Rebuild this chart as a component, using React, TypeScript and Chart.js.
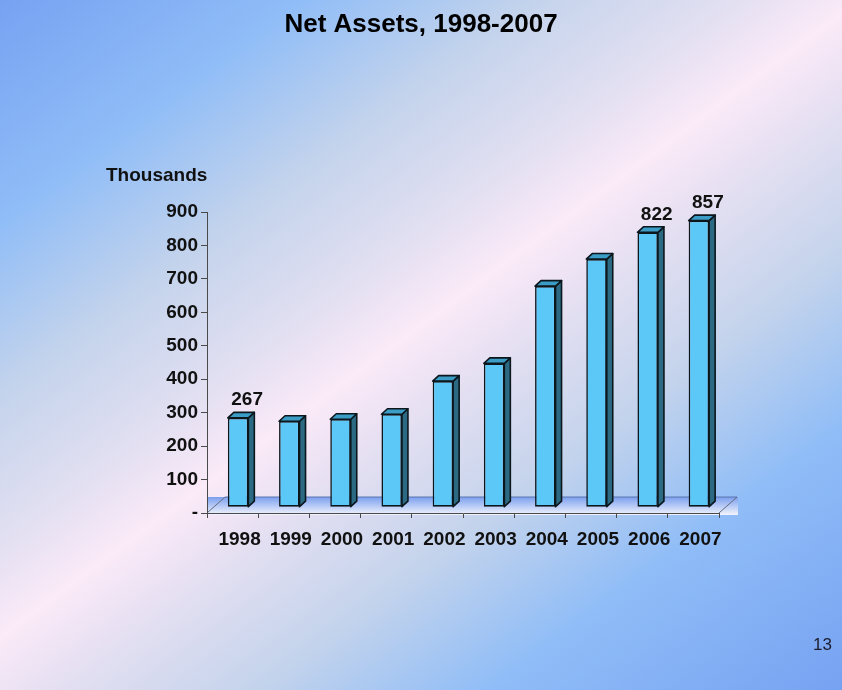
import React, { useEffect, useRef } from 'react';
import { Chart, registerables } from 'chart.js';

Chart.register(...registerables);

// ---- data ----
const CATEGORIES = ['1998', '1999', '2000', '2001', '2002', '2003', '2004', '2005', '2006', '2007'];
const NET_ASSETS = [267, 257, 263, 278, 377, 430, 661, 742, 822, 857];
const SHOW_VALUE = [true, false, false, false, false, false, false, false, true, true];
const Y_MIN = 0;
const Y_MAX = 900;
const Y_STEP = 100;
const TITLE = 'Net Assets, 1998-2007';
const UNIT_LABEL = 'Thousands';
const PAGE_NUMBER = '13';

// ---- style ----
const FONT = '"Liberation Sans", Arial, Helvetica, sans-serif';
const FLOOR_DX = 18;
const FLOOR_DY = -16;
const BAR_SHIFT_X = 5.5;
const BAR_SHIFT_Y = -5.8;
const BAR_DEPTH_X = 6;
const BAR_DEPTH_Y = -5.5;

const backgroundPlugin = {
  id: 'slideBackground',
  beforeDraw(chart: any) {
    const { ctx, width, height, chartArea } = chart;
    ctx.save();
    const g = ctx.createLinearGradient(0, 0, 628, 848);
    g.addColorStop(0, '#76a2f2');
    g.addColorStop(0.17, '#90bdf7');
    g.addColorStop(0.3, '#c3d3ec');
    g.addColorStop(0.42, '#e4e0f2');
    g.addColorStop(0.485, '#fbeaf8');
    g.addColorStop(0.55, '#e6e0f2');
    g.addColorStop(0.67, '#c3d3ec');
    g.addColorStop(0.8, '#90bdf7');
    g.addColorStop(1, '#76a2f2');
    ctx.fillStyle = g;
    ctx.fillRect(0, 0, width, height);

    // 3D floor
    const { left, right, bottom } = chartArea;
    const fg = ctx.createLinearGradient(0, bottom + FLOOR_DY, 0, bottom + 2);
    fg.addColorStop(0, '#7b9fee');
    fg.addColorStop(1, '#f3f5fd');
    ctx.fillStyle = fg;
    ctx.fillRect(left, bottom + FLOOR_DY, right - left + FLOOR_DX + 1, -FLOOR_DY + 2);
    ctx.lineWidth = 1;
    ctx.strokeStyle = '#5a76b0';
    ctx.beginPath();
    ctx.moveTo(left + FLOOR_DX, bottom + FLOOR_DY);
    ctx.lineTo(right + FLOOR_DX, bottom + FLOOR_DY);
    ctx.stroke();
    ctx.strokeStyle = '#666b7c';
    ctx.beginPath();
    ctx.moveTo(left, bottom);
    ctx.lineTo(left + FLOOR_DX, bottom + FLOOR_DY);
    ctx.moveTo(right, bottom);
    ctx.lineTo(right + FLOOR_DX, bottom + FLOOR_DY);
    ctx.stroke();
    ctx.restore();
  },
};

const bar3dPlugin = {
  id: 'bar3d',
  beforeDatasetsDraw(chart: any) {
    chart.ctx.save();
    chart.ctx.translate(BAR_SHIFT_X, BAR_SHIFT_Y);
  },
  afterDatasetsDraw(chart: any) {
    const { ctx } = chart;
    const meta = chart.getDatasetMeta(0);
    ctx.lineWidth = 1.6;
    ctx.lineJoin = 'round';
    ctx.strokeStyle = '#0b161d';
    meta.data.forEach((el: any) => {
      const { x, y, base, width } = el.getProps(['x', 'y', 'base', 'width'], true);
      const xl = x - width / 2;
      const xr = x + width / 2;
      // side face
      ctx.fillStyle = '#2b6a82';
      ctx.beginPath();
      ctx.moveTo(xr, y);
      ctx.lineTo(xr + BAR_DEPTH_X, y + BAR_DEPTH_Y);
      ctx.lineTo(xr + BAR_DEPTH_X, base + BAR_DEPTH_Y);
      ctx.lineTo(xr, base);
      ctx.closePath();
      ctx.fill();
      ctx.stroke();
      // top face
      ctx.fillStyle = '#3b9cc5';
      ctx.beginPath();
      ctx.moveTo(xl, y);
      ctx.lineTo(xl + BAR_DEPTH_X, y + BAR_DEPTH_Y);
      ctx.lineTo(xr + BAR_DEPTH_X, y + BAR_DEPTH_Y);
      ctx.lineTo(xr, y);
      ctx.closePath();
      ctx.fill();
      ctx.stroke();
    });
    // value labels
    ctx.fillStyle = '#111';
    ctx.font = `bold 19px ${FONT}`;
    ctx.textAlign = 'center';
    ctx.textBaseline = 'alphabetic';
    meta.data.forEach((el: any, i: number) => {
      if (!SHOW_VALUE[i]) return;
      const { x, y } = el.getProps(['x', 'y'], true);
      ctx.fillText(String(NET_ASSETS[i]), x + 9, y + BAR_DEPTH_Y - 7);
    });
    ctx.restore();
  },
};

const textPlugin = {
  id: 'slideText',
  afterDraw(chart: any) {
    const { ctx, width } = chart;
    ctx.save();
    ctx.fillStyle = '#000';
    ctx.font = `bold 26px ${FONT}`;
    ctx.textAlign = 'center';
    ctx.textBaseline = 'alphabetic';
    ctx.fillText(TITLE, width / 2, 32);
    ctx.fillStyle = '#111';
    ctx.font = `bold 19px ${FONT}`;
    ctx.textAlign = 'left';
    ctx.fillText(UNIT_LABEL, 106, 181);
    ctx.fillStyle = '#1c1c2c';
    ctx.font = `17px ${FONT}`;
    ctx.textAlign = 'right';
    ctx.fillText(PAGE_NUMBER, 832, 650);
    ctx.restore();
  },
};

export default function App() {
  const ref = useRef<HTMLCanvasElement | null>(null);

  useEffect(() => {
    if (!ref.current) return;
    const chart = new Chart(ref.current, {
      type: 'bar',
      data: {
        labels: CATEGORIES,
        datasets: [
          {
            data: NET_ASSETS,
            backgroundColor: '#5cc8f8',
            borderColor: '#0b161d',
            borderWidth: 1.6,
            borderSkipped: false,
            barPercentage: 0.4,
            categoryPercentage: 1.0,
            clip: false as any,
          },
        ],
      },
      options: {
        responsive: false,
        animation: false,
        layout: { padding: { left: 0, right: 123, top: 212, bottom: 117 } },
        plugins: {
          legend: { display: false },
          tooltip: { enabled: false },
          title: { display: false },
        },
        scales: {
          x: {
            afterFit: (s: any) => {
              s.height = 60;
            },
            grid: { display: true, drawOnChartArea: false, drawTicks: true, tickLength: 5, color: '#4a4a4a', offset: true },
            border: { display: true, color: '#4a4a4a', width: 1 },
            ticks: {
              color: '#111',
              font: { family: FONT, size: 19, weight: 'bold' },
              padding: 10,
              labelOffset: 7,
              maxRotation: 0,
              autoSkip: false,
            },
          },
          y: {
            min: Y_MIN,
            max: Y_MAX,
            afterFit: (s: any) => {
              s.width = 207;
            },
            grid: { display: true, drawOnChartArea: false, drawTicks: true, tickLength: 6, color: '#4a4a4a' },
            border: { display: true, color: '#4a4a4a', width: 1 },
            ticks: {
              stepSize: Y_STEP,
              color: '#111',
              font: { family: FONT, size: 19, weight: 'bold' },
              padding: 3,
              callback: (v: any) => (Number(v) === 0 ? '-' : String(v)),
            },
          },
        },
      },
      plugins: [backgroundPlugin, bar3dPlugin, textPlugin],
    });
    return () => chart.destroy();
  }, []);

  return (
    <div style={{ position: 'absolute', left: 0, top: 0, width: 842, height: 690 }}>
      <canvas ref={ref} width={842} height={690} />
    </div>
  );
}
